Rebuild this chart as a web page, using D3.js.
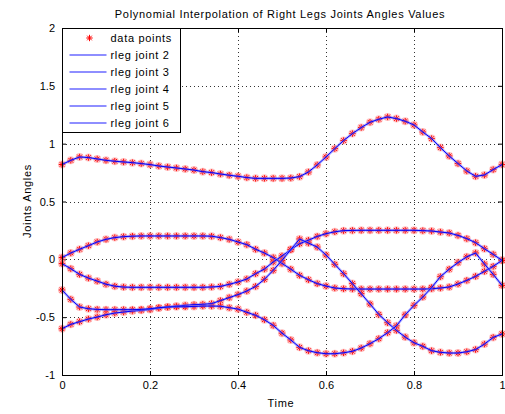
<!DOCTYPE html>
<html>
<head>
<meta charset="utf-8">
<script src="https://cdn.jsdelivr.net/npm/d3@7"></script>
<style>
  body { margin: 0; background: #fff; }
  text { font-family: "Liberation Sans", Arial, Helvetica, sans-serif; font-size: 11px; fill: #000; }
  text.wide { letter-spacing: 0.7px; }
</style>
</head>
<body>
<svg id="chart" width="505" height="414"></svg>
<script>
// sample times (x) and joint angles
let times = [0, 0.02, 0.04, 0.06, 0.08, 0.1, 0.12, 0.14, 0.16, 0.18,
             0.2, 0.22, 0.24, 0.26, 0.28, 0.3, 0.32, 0.34, 0.36, 0.38,
             0.4, 0.42, 0.44, 0.46, 0.48, 0.5, 0.52, 0.54, 0.56, 0.58,
             0.6, 0.62, 0.64, 0.66, 0.68, 0.7, 0.72, 0.74, 0.76, 0.78,
             0.8, 0.82, 0.84, 0.86, 0.88, 0.9, 0.92, 0.94, 0.96, 0.98, 1];

let joint2 = [0.82, 0.856, 0.885, 0.88, 0.868, 0.856, 0.848, 0.842, 0.836, 0.828,
              0.819, 0.807, 0.798, 0.79, 0.781, 0.772, 0.758, 0.75, 0.738, 0.727,
              0.718, 0.707, 0.70, 0.70, 0.70, 0.70, 0.703, 0.715, 0.755, 0.816,
              0.885, 0.957, 1.027, 1.087, 1.139, 1.185, 1.211, 1.231, 1.217, 1.194,
              1.162, 1.101, 1.044, 0.966, 0.894, 0.828, 0.764, 0.718, 0.729, 0.776, 0.819];

let joint3 = [0.015, 0.055, 0.087, 0.118, 0.15, 0.173, 0.188, 0.196, 0.2, 0.202,
              0.202, 0.202, 0.202, 0.202, 0.202, 0.202, 0.202, 0.2, 0.188, 0.173,
              0.15, 0.127, 0.087, 0.055, 0.015, -0.035, -0.085, -0.138, -0.176, -0.21,
              -0.231, -0.248, -0.254, -0.256, -0.257, -0.257, -0.257, -0.257, -0.257, -0.257,
              -0.257, -0.257, -0.255, -0.248, -0.239, -0.213, -0.182, -0.147, -0.104, -0.061, -0.009];

let joint4 = [-0.037, -0.081, -0.13, -0.162, -0.188, -0.215, -0.232, -0.24, -0.242, -0.242,
              -0.242, -0.242, -0.242, -0.242, -0.242, -0.242, -0.242, -0.239, -0.234, -0.216,
              -0.196, -0.17, -0.124, -0.084, -0.023, 0.029, 0.084, 0.135, 0.165, 0.198,
              0.222, 0.238, 0.248, 0.25, 0.251, 0.251, 0.251, 0.251, 0.251, 0.251,
              0.251, 0.248, 0.245, 0.236, 0.228, 0.207, 0.179, 0.144, 0.092, 0.043, -0.009];

let joint5 = [-0.6, -0.562, -0.539, -0.516, -0.499, -0.479, -0.464, -0.456, -0.447, -0.441,
              -0.433, -0.421, -0.412, -0.404, -0.398, -0.392, -0.389, -0.383, -0.357, -0.331,
              -0.305, -0.274, -0.234, -0.173, -0.095, -0.009, 0.084, 0.176, 0.141, 0.106,
              0.038, -0.043, -0.124, -0.21, -0.297, -0.386, -0.476, -0.548, -0.614, -0.672,
              -0.721, -0.752, -0.79, -0.804, -0.81, -0.81, -0.799, -0.78, -0.733, -0.675, -0.645];

let joint6 = [-0.265, -0.346, -0.412, -0.427, -0.433, -0.435, -0.435, -0.435, -0.435, -0.433,
              -0.427, -0.418, -0.412, -0.41, -0.41, -0.407, -0.404, -0.404, -0.405, -0.418,
              -0.43, -0.458, -0.484, -0.522, -0.571, -0.638, -0.697, -0.761, -0.79, -0.807,
              -0.816, -0.816, -0.808, -0.795, -0.767, -0.729, -0.686, -0.634, -0.575, -0.48,
              -0.398, -0.326, -0.244, -0.15, -0.085, -0.028, 0.022, 0.055, -0.04, -0.13, -0.225];

let jointNames = ["rleg joint 2", "rleg joint 3", "rleg joint 4", "rleg joint 5", "rleg joint 6"];
let xTicks = [0, 0.2, 0.4, 0.6, 0.8, 1];
let yTicks = [-1, -0.5, 0, 0.5, 1, 1.5, 2];

let series = [joint2, joint3, joint4, joint5, joint6];

let margin = {top: 28, right: 3, bottom: 39, left: 62};
let svg = d3.select("svg#chart");
let width = +svg.attr("width") - margin.left - margin.right;
let height = +svg.attr("height") - margin.top - margin.bottom;

let x = d3.scaleLinear().domain([0, 1]).range([margin.left, margin.left + width]);
let y = d3.scaleLinear().domain([-1, 2]).range([margin.top + height, margin.top]);

let starPath = "M-3.2,0H3.2M0,-3.2V3.2M-2.3,-2.3L2.3,2.3M-2.3,2.3L2.3,-2.3";

// grid
let grid = svg.append("g").attr("class", "grid")
  .attr("stroke", "#333").attr("stroke-dasharray", "1,3").attr("stroke-width", 1);

grid.selectAll("line.gx").data(xTicks.slice(1, -1))
  .enter().append("line")
    .attr("class", "gx")
    .attr("x1", function(d) { return Math.round(x(d)) + 0.5; })
    .attr("x2", function(d) { return Math.round(x(d)) + 0.5; })
    .attr("y1", margin.top)
    .attr("y2", margin.top + height);

grid.selectAll("line.gy").data(yTicks.slice(1, -1))
  .enter().append("line")
    .attr("class", "gy")
    .attr("y1", function(d) { return Math.round(y(d)) + 0.5; })
    .attr("y2", function(d) { return Math.round(y(d)) + 0.5; })
    .attr("x1", margin.left)
    .attr("x2", margin.left + width);

// axes, ticks pointing inwards like matlab
function styleAxis(g) {
  g.select(".domain").remove();
  g.selectAll("line").attr("stroke", "#000");
  g.selectAll("text").style("font-size", "11px");
}

svg.append("g")
  .attr("transform", "translate(0," + (margin.top + height) + ")")
  .call(d3.axisBottom(x).tickValues(xTicks).tickSize(-4).tickPadding(6).tickFormat(function(d) { return "" + d; }))
  .call(styleAxis);

svg.append("g")
  .attr("transform", "translate(0," + margin.top + ")")
  .call(d3.axisTop(x).tickValues(xTicks).tickSize(-4).tickFormat(""))
  .call(styleAxis);

svg.append("g")
  .attr("transform", "translate(" + margin.left + ",0)")
  .call(d3.axisLeft(y).tickValues(yTicks).tickSize(-4).tickPadding(7).tickFormat(function(d) { return "" + d; }))
  .call(styleAxis);

svg.append("g")
  .attr("transform", "translate(" + (margin.left + width) + ",0)")
  .call(d3.axisRight(y).tickValues(yTicks).tickSize(-4).tickFormat(""))
  .call(styleAxis);

// data points (red stars with a soft halo)
let pts = svg.append("g").attr("class", "points");
series.forEach(function(vals) {
  let g = pts.append("g");
  g.selectAll("circle").data(vals)
    .enter().append("circle")
      .attr("cx", function(d, i) { return x(times[i]); })
      .attr("cy", function(d) { return y(d); })
      .attr("r", 4)
      .attr("fill", "#ff8a8a")
      .attr("opacity", 0.5);
  g.selectAll("path").data(vals)
    .enter().append("path")
      .attr("d", starPath)
      .attr("transform", function(d, i) { return "translate(" + x(times[i]) + "," + y(d) + ")"; })
      .attr("stroke", "#ff0000")
      .attr("stroke-width", 1)
      .attr("fill", "none");
});

// interpolated curves
let line = d3.line()
  .x(function(d, i) { return x(times[i]); })
  .y(function(d) { return y(d); });

let curves = svg.append("g").attr("class", "curves").attr("fill", "none");
series.forEach(function(vals) {
  curves.append("path").attr("d", line(vals))
    .attr("stroke", "#7a7aff").attr("stroke-width", 2.6).attr("opacity", 0.55);
  curves.append("path").attr("d", line(vals))
    .attr("stroke", "#0000ff").attr("stroke-width", 1);
});

// box
svg.append("rect")
  .attr("x", margin.left + 0.5).attr("y", margin.top + 0.5)
  .attr("width", width).attr("height", height)
  .attr("fill", "none").attr("stroke", "#000");

// labels
svg.append("text")
  .attr("class", "wide")
  .attr("x", 280)
  .attr("y", 18)
  .attr("text-anchor", "middle")
  .text("Polynomial Interpolation of Right Legs Joints Angles Values");

svg.append("text")
  .attr("class", "wide")
  .attr("x", 281)
  .attr("y", 407)
  .attr("text-anchor", "middle")
  .text("Time");

svg.append("text")
  .attr("class", "wide")
  .attr("transform", "translate(31,201) rotate(-90)")
  .attr("text-anchor", "middle")
  .text("Joints Angles");

// legend
let legend = svg.append("g").attr("class", "legend")
  .attr("transform", "translate(" + (margin.left + 0.5) + "," + (margin.top + 0.5) + ")");

legend.append("rect")
  .attr("width", 118).attr("height", 104)
  .attr("fill", "#fff").attr("stroke", "#000");

let legendItems = ["data points"].concat(jointNames);
let rows = legend.selectAll("g.row").data(legendItems)
  .enter().append("g")
    .attr("class", "row")
    .attr("transform", function(d, i) { return "translate(0," + (9.5 + 17 * i) + ")"; });

rows.filter(function(d, i) { return i > 0; })
  .append("line")
    .attr("x1", 7).attr("x2", 44)
    .attr("stroke", "#1f1fff").attr("stroke-width", 1.2);

rows.filter(function(d, i) { return i === 0; })
  .append("path")
    .attr("d", starPath)
    .attr("transform", "translate(27,0)")
    .attr("stroke", "#ff0000")
    .attr("fill", "none");

rows.append("text")
  .attr("class", "wide")
  .attr("x", 48)
  .attr("dy", "0.35em")
  .text(function(d) { return d; });
</script>
</body>
</html>
